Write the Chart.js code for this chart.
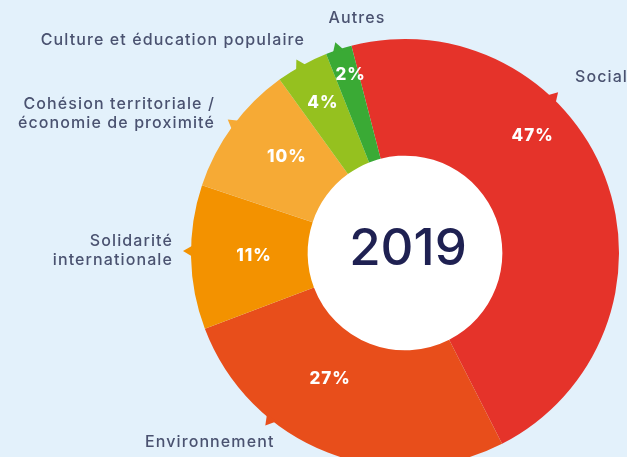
<!DOCTYPE html>
<html><head><meta charset="utf-8">
<script src="https://cdn.jsdelivr.net/npm/chart.js@4.4.1/dist/chart.umd.min.js"></script>
<style>
html,body{margin:0;padding:0;background:#E3F1FB;overflow:hidden}
#wrap{width:627px;height:457px;position:relative}
canvas{display:block}
</style>
</head><body>
<div id="wrap"><canvas id="c" width="627" height="457"></canvas></div>
<script>
// ---- data ----
const categoryLines = [
  ['Social'],
  ['Environnement'],
  ['Solidarité', 'internationale'],
  ['Cohésion territoriale /', 'économie de proximité'],
  ['Culture et éducation populaire'],
  ['Autres']
];
const categories = categoryLines.map(l => l.join(' '));
const values = [47, 27, 11, 10, 4, 2];
const percentLabels = ['47%', '27%', '11%', '10%', '4%', '2%'];
const yearLabel = '2019';

// ---- style ----
const colors = ['#E5332A', '#E84E1B', '#F39200', '#F6AA35', '#95C11F', '#3AAA35'];
const textColor = '#4A5270';
const FONT = 'Inter, "Open Sans", sans-serif';
// where inside each slice the percent text sits (fraction along angle, fraction across ring)
const pctPos = [[0.37, 0.65], [0.60, 0.42], [0.50, 0.46], [0.58, 0.47], [0.50, 0.63], [0.65, 0.76]];
// small callout pointers on the outer edge (degrees clockwise from top)
const notchDeg = [43.6, 219, 270.5, 307, 330.7, 341.7];
// outer category labels
const outerLabelCfg = [
  {x: 575, y: 77, align: 'left'},
  {x: 145, y: 442, align: 'left'},
  {x: 173, y: 241, align: 'right'},
  {x: 215, y: 104, align: 'right'},
  {x: 305, y: 40, align: 'right'},
  {x: 357, y: 18, align: 'center'}
];

const decor = {
  id: 'decor',
  beforeDatasetsDraw(chart) {
    const ctx = chart.ctx;
    const a = chart.getDatasetMeta(0).data[0];
    ctx.save();
    ctx.beginPath();
    ctx.arc(a.x, a.y, a.innerRadius + 1, 0, Math.PI * 2);
    ctx.fillStyle = '#FFFFFF';
    ctx.fill();
    ctx.restore();
  },
  afterDatasetsDraw(chart) {
    const ctx = chart.ctx;
    const arcs = chart.getDatasetMeta(0).data;
    ctx.save();
    // notches
    arcs.forEach((a, i) => {
      const ang = (notchDeg[i] - 90) * Math.PI / 180;
      const r = a.outerRadius;
      const half = 6 / r;
      const p = (rr, aa) => [a.x + rr * Math.cos(aa), a.y + rr * Math.sin(aa)];
      ctx.beginPath();
      let q = p(r - 2, ang - half); ctx.moveTo(q[0], q[1]);
      q = p(r + 8, ang); ctx.lineTo(q[0], q[1]);
      q = p(r - 2, ang + half); ctx.lineTo(q[0], q[1]);
      ctx.closePath();
      ctx.fillStyle = colors[i];
      ctx.fill();
    });
    // percent labels
    ctx.fillStyle = '#FFFFFF';
    ctx.font = '800 17px ' + FONT;
    ctx.letterSpacing = '1px';
    ctx.textAlign = 'center';
    ctx.textBaseline = 'middle';
    arcs.forEach((a, i) => {
      const ang = a.startAngle + pctPos[i][0] * (a.endAngle - a.startAngle);
      const r = a.innerRadius + pctPos[i][1] * (a.outerRadius - a.innerRadius);
      ctx.fillText(percentLabels[i], a.x + r * Math.cos(ang), a.y + r * Math.sin(ang));
    });
    // center year
    const a0 = arcs[0];
    ctx.fillStyle = '#1F2152';
    ctx.letterSpacing = '0px';
    ctx.font = '500 51px ' + FONT;
    ctx.fillText(yearLabel, a0.x + 3, a0.y - 3);
    // outer labels
    ctx.fillStyle = textColor;
    ctx.font = '500 16px ' + FONT;
    ctx.letterSpacing = '1.1px';
    outerLabelCfg.forEach((c, i) => {
      ctx.textAlign = c.align;
      categoryLines[i].forEach((line, j) => {
        ctx.fillText(line, c.x, c.y + j * 19);
      });
    });
    ctx.restore();
  }
};

new Chart(document.getElementById('c'), {
  type: 'doughnut',
  data: {
    labels: categories,
    datasets: [{
      data: values,
      backgroundColor: colors,
      borderWidth: 0,
      radius: 214,
      cutout: '45.5%'
    }]
  },
  options: {
    responsive: false,
    devicePixelRatio: 1,
    animation: false,
    rotation: -14.5,
    layout: {padding: {left: 183, right: 0, top: 49, bottom: 0}},
    plugins: {legend: {display: false}, tooltip: {enabled: false}}
  },
  plugins: [decor]
});
</script>
</body></html>
